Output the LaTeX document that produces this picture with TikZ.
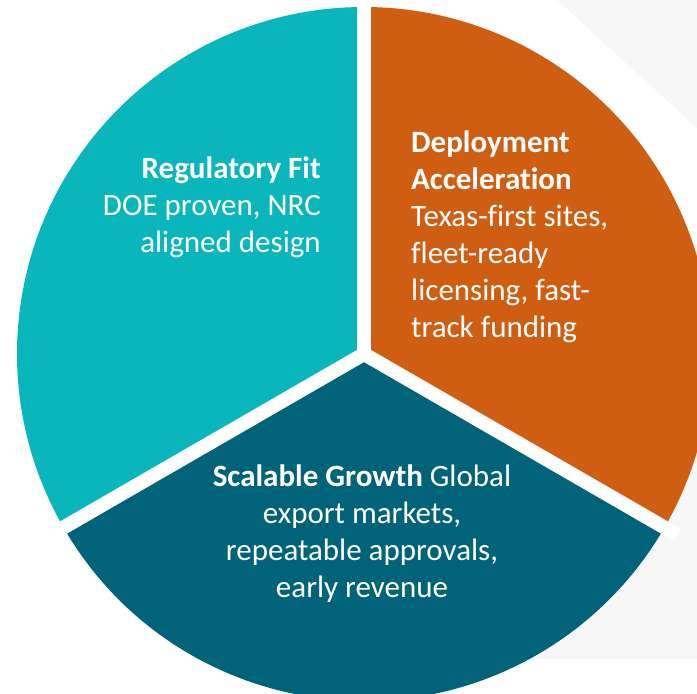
\documentclass[tikz,border=0pt]{standalone}
\usepackage{fontspec}
\setmainfont{Carlito}[Ligatures=CommonOff]
\usetikzlibrary{positioning, calc}
\definecolor{sliceReg}{HTML}{08B6BB}
\definecolor{sliceDep}{HTML}{CF5E12}
\definecolor{sliceGrow}{HTML}{006379}
\definecolor{backGrey}{HTML}{F7F7F7}

\begin{document}
\begin{tikzpicture}[
    x=1pt, y=1pt,
    label/.style={inner sep=0pt, text=white,
                  font=\fontsize{31}{37}\selectfont},
    gap/.style={white, line width=14pt},
]
\clip (0,0) rectangle (697,694);
\fill[white] (0,0) rectangle (697,694);

% grey backdrop on the right
\fill[backGrey] (557,694) -- (697,694) -- (697,566) -- cycle;
\fill[backGrey] (500,394) -- (697,394) -- (697,35) -- (500,35) -- cycle;

\coordinate (centre) at (364,340);

% the three slices
\fill[sliceReg]  (centre) -- ++(90:347)  arc[start angle=90,  end angle=210, radius=347] -- cycle;
\fill[sliceDep]  (centre) -- ++(-30:347) arc[start angle=-30, end angle=90,  radius=347] -- cycle;
\fill[sliceGrow] (centre) -- ++(210:347) arc[start angle=210, end angle=330, radius=347] -- cycle;

% white gaps between slices
\coordinate (gapTop)   at ($(centre)+(90:362)$);
\coordinate (gapLeft)  at ($(centre)+(210:362)$);
\coordinate (gapRight) at ($(centre)+(-30:362)$);
\draw[gap] (centre) -- (gapTop);
\draw[gap] (centre) -- (gapLeft);
\draw[gap] (centre) -- (gapRight);

% slice texts
\node[label, align=right, anchor=north east] (regText) at (321,537)
    {\textbf{Regulatory Fit}\\DOE proven, NRC\\aligned design};
\node[label, align=left, anchor=north west] (depText) at (411,563)
    {\textbf{Deployment}\\\textbf{Acceleration}\\Texas-first sites,\\fleet-ready\\licensing, fast-\\track funding};
\node[label, align=center, anchor=north] (growText) at (362,229)
    {\textbf{Scalable Growth} Global\\export markets,\\repeatable approvals,\\early revenue};
\end{tikzpicture}
\end{document}
